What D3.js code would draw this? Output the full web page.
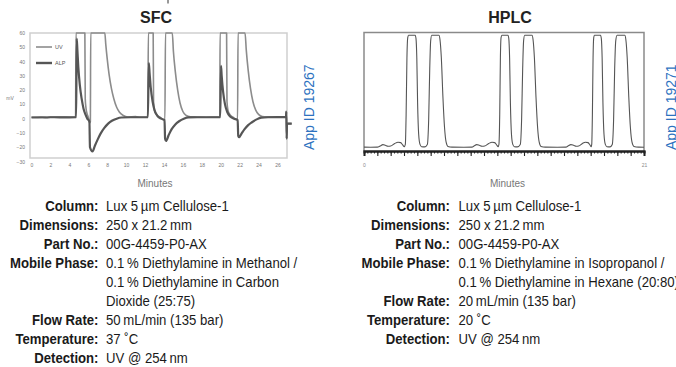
<!DOCTYPE html>
<html><head><meta charset="utf-8">
<script src="https://cdn.jsdelivr.net/npm/d3@7"></script>
<style>
html,body{margin:0;padding:0;background:#fff;}
svg{display:block;}
</style></head><body>
<svg id="c" width="676" height="367"></svg>
<script>
// ---------- data ----------
const sfcTicksY = [-30, -20, -10, 0, 10, 20, 30, 40, 50, 60];
const sfcTicksX = [0, 2, 4, 6, 8, 10, 12, 14, 16, 18, 20, 22, 24, 26];
const sfcSeriesNames = ["UV", "ALP"];
// minutes, mV
const sfcUV = [
  [0,1],[1,1.2],[1.6,0.6],[2,1.1],[3,1.2],[4,1],[4.66,1.2],
  [4.7,60],[5.64,60],[5.68,14],[5.75,8],[5.85,4],[6.0,1],[6.15,-3],[6.22,-2],
  [6.26,60],[7.75,60],[7.85,52],[8.0,42],[8.2,31],[8.45,21],[8.7,14],[9.0,8],[9.3,4.5],[9.7,2.2],[10.2,1.2],[11,1.4],[11.5,1],[12.3,1.2],
  [12.35,60],[12.86,60],[12.9,12],[13.0,6],[13.2,3],[13.6,1],[14.1,-1],
  [14.16,60],[14.88,60],[15.0,47],[15.2,33],[15.45,20],[15.7,11],[16.0,5],[16.3,2.5],[16.8,1.3],[17.5,1.2],[18.5,1],[19.5,1.2],[19.9,1],
  [19.93,60],[20.62,60],[20.66,12],[20.76,6],[20.95,3],[21.3,1],[21.78,-1],
  [21.83,60],[22.57,60],[22.7,48],[22.9,34],[23.15,21],[23.4,12],[23.7,6],[24.0,3],[24.4,1.5],[25,1.3],[26,1.2],[26.9,1.4],
  [26.93,5],[26.97,-14],[27.0,-3.5],[27.5,-3.5]
];
const sfcALP = [
  [0,0.8],[2,1],[4,0.9],[4.72,1],
  [4.78,56],[4.85,48],[4.95,36],[5.1,24],[5.3,14],[5.5,7],[5.7,3],[5.9,0],[6.12,-2],
  [6.18,-20],[6.45,-23],[6.7,-19],[7.0,-14.5],[7.3,-10.5],[7.7,-6.5],[8.1,-3.5],[8.5,-1.5],[9.0,0],[9.5,0.8],[10.5,1],[12.3,1],
  [12.4,39],[12.48,32],[12.6,22],[12.8,12],[13.0,6],[13.3,2],[13.7,0],[14.06,-1],
  [14.12,-14],[14.22,-15.6],[14.5,-11.5],[14.8,-7.5],[15.2,-4],[15.6,-1.8],[16.1,0],[16.6,0.9],[17.5,1],[19.95,1],
  [20.03,37],[20.1,30],[20.25,19],[20.45,10],[20.7,4.5],[21.0,1.5],[21.4,0],[21.79,-1],
  [21.85,-12],[21.95,-13],[22.2,-10.5],[22.5,-7.5],[22.9,-4.5],[23.3,-2.5],[23.8,-0.5],[24.3,0.7],[25,1],[26.9,1.2],
  [26.93,5],[26.97,-14],[27.0,-3.5],[27.5,-3.5]
];
const hplcTickLabels = [0, 21];
// minutes, relative response (%)
const hplcTrace = [
  [0,0.6],[0.5,0.5],[1.0,0.6],[1.2,1.5],[1.42,2.8],[1.6,2.2],[1.8,1.4],[2.0,1.6],[2.3,3.8],[2.55,5],[2.75,4.6],[2.9,2.5],[3.02,1],
  [3.1,3],[3.16,30],[3.22,80],[3.28,98],[3.34,100],[3.84,100],[3.9,97],[3.96,80],[4.02,40],[4.1,12],[4.2,3],[4.32,1],[4.55,0.8],
  [4.75,3],[4.85,25],[4.93,70],[5.0,95],[5.08,100],[5.62,100],[5.7,96],[5.8,80],[5.92,45],[6.04,18],[6.16,5],[6.3,1.2],[6.6,0.6],[7.5,0.5],
  [8.1,0.6],[8.25,1.6],[8.45,2.8],[8.65,2.2],[8.85,1.4],[9.05,1.6],[9.35,3.8],[9.6,5],[9.8,4.6],[9.95,2.5],[10.06,1],
  [10.12,3],[10.18,30],[10.23,80],[10.28,98],[10.34,100],[10.8,100],[10.86,97],[10.92,80],[10.98,40],[11.06,12],[11.16,3],[11.28,1],[11.5,0.8],
  [11.72,3],[11.82,25],[11.9,70],[11.97,95],[12.05,100],[12.6,100],[12.68,96],[12.78,80],[12.9,45],[13.02,18],[13.14,5],[13.28,1.2],[13.6,0.6],[14.5,0.5],
  [15.15,0.6],[15.3,1.6],[15.52,2.8],[15.72,2.2],[15.92,1.4],[16.1,1.6],[16.38,3.8],[16.6,5],[16.8,4.6],[16.95,2.5],[17.04,1],
  [17.08,3],[17.13,30],[17.18,80],[17.23,98],[17.28,100],[17.74,100],[17.8,97],[17.86,80],[17.92,40],[18.0,12],[18.1,3],[18.22,1],[18.45,0.8],
  [18.62,3],[18.72,25],[18.8,70],[18.88,95],[18.98,100],[19.56,100],[19.64,96],[19.74,80],[19.86,45],[19.98,18],[20.1,5],[20.25,1.2],[20.6,0.6],[21,0.5]
];
const sfcInfo = [
  ["Column:", "Lux 5\u2009µm Cellulose-1"],
  ["Dimensions:", "250 x 21.2\u2009mm"],
  ["Part No.:", "00G-4459-P0-AX"],
  ["Mobile Phase:", "0.1\u2009% Diethylamine in Methanol /"],
  ["", "0.1\u2009% Diethylamine in Carbon"],
  ["", "Dioxide (25:75)"],
  ["Flow Rate:", "50\u2009mL/min (135 bar)"],
  ["Temperature:", "37 \u02DAC"],
  ["Detection:", "UV @ 254\u2009nm"]
];
const hplcInfo = [
  ["Column:", "Lux 5\u2009µm Cellulose-1"],
  ["Dimensions:", "250 x 21.2\u2009mm"],
  ["Part No.:", "00G-4459-P0-AX"],
  ["Mobile Phase:", "0.1\u2009% Diethylamine in Isopropanol /"],
  ["", "0.1\u2009% Diethylamine in Hexane (20:80)"],
  ["Flow Rate:", "20\u2009mL/min (135 bar)"],
  ["Temperature:", "20 \u02DAC"],
  ["Detection:", "UV @ 254\u2009nm"]
];

// ---------- drawing ----------
const svg = d3.select("#c");
const FONT = "'Liberation Sans', Arial, Helvetica, sans-serif";
const BLUE = "#2d72bf";

// small top mark
svg.append("line").attr("x1", 168).attr("x2", 168).attr("y1", 0).attr("y2", 3.5)
  .attr("stroke", "#333").attr("stroke-width", 1);

// ===== SFC =====
const sx = d3.scaleLinear().domain([0, 26]).range([31.5, 277.5]);
const sy = d3.scaleLinear().domain([-30, 60]).range([161.5, 33]);

svg.append("text").attr("x", 156).attr("y", 23).attr("text-anchor", "middle")
  .attr("font-family", FONT).attr("font-weight", "bold").attr("font-size", 16).attr("fill", "#222").text("SFC");

svg.append("rect").attr("x", 30).attr("y", 33).attr("width", 257).attr("height", 125)
  .attr("fill", "none").attr("stroke", "#cfcfcf").attr("stroke-width", 1.5);

const gy = svg.append("g").attr("transform", "translate(30,0)")
  .call(d3.axisLeft(sy).tickValues(sfcTicksY).tickSize(0).tickPadding(5));
gy.select(".domain").remove();
gy.selectAll("text").attr("font-family", FONT).attr("font-size", 5).attr("fill", "#777");

const gx = svg.append("g").attr("transform", "translate(0,162)")
  .call(d3.axisBottom(sx).tickValues(sfcTicksX).tickSize(0).tickPadding(1));
gx.select(".domain").remove();
gx.selectAll("text").attr("font-family", FONT).attr("font-size", 5).attr("fill", "#777");

svg.append("text").attr("x", 10).attr("y", 100).attr("text-anchor", "middle")
  .attr("font-family", FONT).attr("font-size", 5).attr("fill", "#777").text("mV");

svg.append("text").attr("x", 155).attr("y", 186.5).attr("text-anchor", "middle")
  .attr("font-family", FONT).attr("font-size", 10).attr("fill", "#777").text("Minutes");

const sline = d3.line().x(d => sx(d[0])).y(d => sy(d[1])).curve(d3.curveMonotoneX);
svg.append("path").datum(sfcUV).attr("d", sline).attr("fill", "none")
  .attr("stroke", "#8c8c8c").attr("stroke-width", 1.6).attr("stroke-linejoin", "round");
svg.append("path").datum(sfcALP).attr("d", sline).attr("fill", "none")
  .attr("stroke", "#565656").attr("stroke-width", 2.2).attr("stroke-linejoin", "round");

// legend
const legStyles = [{c: "#8c8c8c", w: 1.6}, {c: "#565656", w: 2.4}];
sfcSeriesNames.forEach((n, i) => {
  const yy = 47 + i * 16;
  svg.append("line").attr("x1", 36).attr("x2", 52).attr("y1", yy).attr("y2", yy)
    .attr("stroke", legStyles[i].c).attr("stroke-width", legStyles[i].w);
  svg.append("text").attr("x", 55).attr("y", yy + 2).attr("font-family", FONT)
    .attr("font-size", 5.5).attr("fill", "#555").text(n);
});

svg.append("text").attr("transform", "translate(314,150) rotate(-90)")
  .attr("font-family", FONT).attr("font-size", 14).attr("fill", BLUE).text("App ID 19267");

// ===== HPLC =====
const hx = d3.scaleLinear().domain([0, 21]).range([364, 644]);
const hy = d3.scaleLinear().domain([0, 100]).range([147.8, 35.3]);

svg.append("text").attr("x", 510).attr("y", 23).attr("text-anchor", "middle")
  .attr("font-family", FONT).attr("font-weight", "bold").attr("font-size", 16).attr("fill", "#222").text("HPLC");

svg.append("path").attr("d", `M364,151V32.5H644V151`).attr("fill", "none")
  .attr("stroke", "#8a8a8a").attr("stroke-width", 1.5);

const hline = d3.line().x(d => hx(d[0])).y(d => hy(d[1])).curve(d3.curveMonotoneX);
svg.append("path").datum(hplcTrace).attr("d", hline).attr("fill", "none")
  .attr("stroke", "#555").attr("stroke-width", 1.1).attr("stroke-linejoin", "round");

const minorT = d3.range(0, 21.001, 0.25);
const majorT = d3.range(0, 21.001, 1);
const ga1 = svg.append("g").attr("transform", "translate(0,151)")
  .call(d3.axisBottom(hx).tickValues(minorT).tickSize(2.5).tickFormat(""));
const ga2 = svg.append("g").attr("transform", "translate(0,151)")
  .call(d3.axisBottom(hx).tickValues(majorT).tickSize(5).tickFormat(""));
[ga1, ga2].forEach(g => {
  g.select(".domain").attr("stroke", "#222").attr("stroke-width", 2);
  g.selectAll(".tick line").attr("stroke", "#222").attr("stroke-width", 1.1);
});
const ga3 = svg.append("g").attr("transform", "translate(0,163)")
  .call(d3.axisBottom(hx).tickValues(hplcTickLabels).tickSize(0).tickPadding(0));
ga3.select(".domain").remove();
ga3.selectAll("text").attr("font-family", FONT).attr("font-size", 5).attr("fill", "#888");

svg.append("text").attr("x", 507.5).attr("y", 186.5).attr("text-anchor", "middle")
  .attr("font-family", FONT).attr("font-size", 10).attr("fill", "#777").text("Minutes");

svg.append("text").attr("transform", "translate(676,150) rotate(-90)")
  .attr("font-family", FONT).attr("font-size", 14).attr("fill", BLUE).text("App ID 19271");

// ===== info tables =====
const SX = 0.94;
function infoBlock(rows, xLabel, xVal, y0, dy) {
  rows.forEach((r, i) => {
    const y = y0 + i * dy;
    if (r[0]) svg.append("text").attr("transform", `translate(${xLabel},${y}) scale(${SX},1)`)
      .attr("text-anchor", "end")
      .attr("font-family", FONT).attr("font-weight", "bold").attr("font-size", 14)
      .attr("fill", "#1a1a1a").text(r[0]);
    svg.append("text").attr("transform", `translate(${xVal},${y}) scale(${SX},1)`)
      .attr("font-family", FONT).attr("font-size", 14).attr("fill", "#1a1a1a").text(r[1]);
  });
}
infoBlock(sfcInfo, 98.5, 106, 210.5, 19.1);
infoBlock(hplcInfo, 450, 458.5, 210.5, 19.1);
</script>
</body></html>
